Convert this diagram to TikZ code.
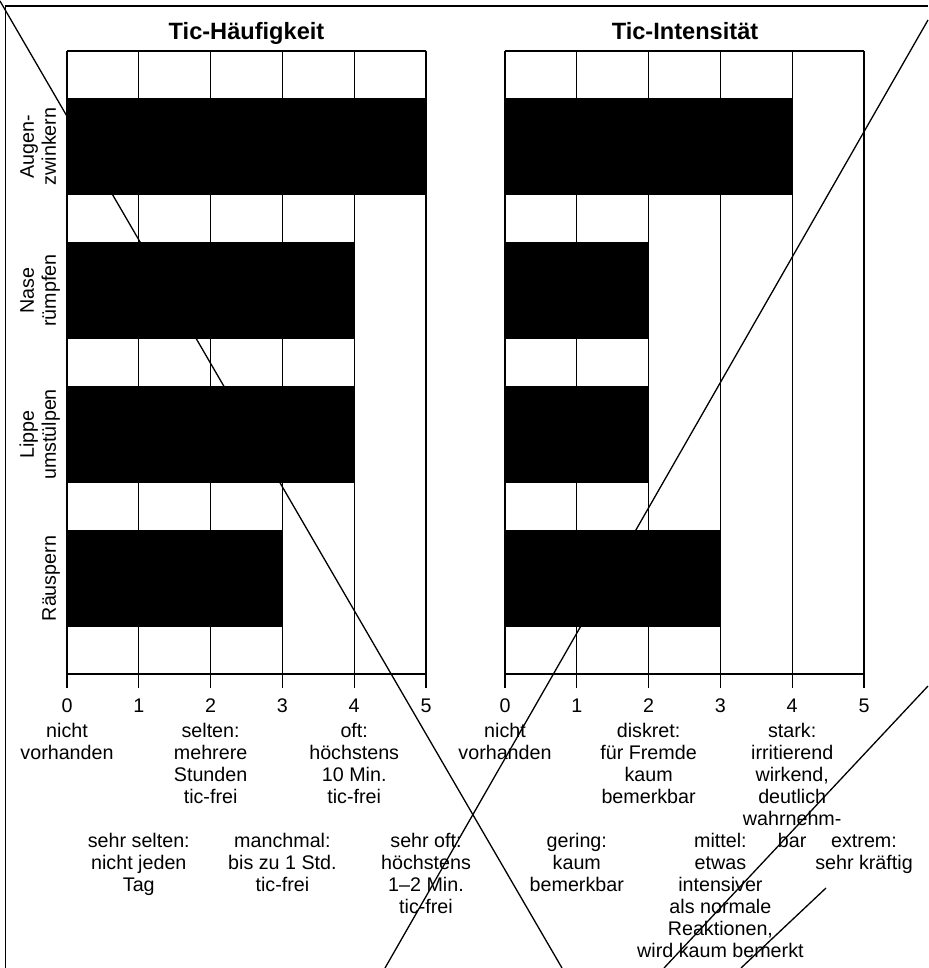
\documentclass[tikz,border=0pt]{standalone}
\usepackage{fontspec}
\setmainfont{Liberation Sans}
\newcommand\lblfont{\fontsize{19.7}{22}\selectfont}
\newcommand\ttlfont{\fontsize{23.6}{28}\selectfont\bfseries}
\begin{document}
\begin{tikzpicture}[x=1pt,y=-1pt,
  gridline/.style={line width=1.3pt},
  axisline/.style={line width=2pt},
  stray/.style={line width=1.3pt},
  framel/.style={line width=1.5pt},
  bar/.style={fill=black},
  lbl/.style={anchor=north,inner sep=0pt,align=center,font=\lblfont},
  num/.style={anchor=base,inner sep=0pt,font=\lblfont},
  cat/.style={rotate=90,anchor=south,inner sep=0pt,align=center,font=\lblfont},
  ttl/.style={anchor=base,inner sep=0pt,font=\ttlfont}]
\useasboundingbox (0,0) rectangle (928,968);
% frame
\coordinate (f1) at (5.5,968);
\coordinate (f2) at (5.5,6);
\coordinate (f3) at (928,6);
\draw[framel] (f1) -- (f2) -- (f3);
% stray diagonal lines
\coordinate (a1) at (0,1);   \coordinate (a2) at (562,968);
\coordinate (b1) at (928,20); \coordinate (b2) at (385,968);
\coordinate (c1) at (928,686); \coordinate (c2) at (664,968);
\coordinate (d1) at (826,888); \coordinate (d2) at (741,968);
\draw[stray] (a1) -- (a2);
\draw[stray] (b1) -- (b2);
\draw[stray] (c1) -- (c2);
\draw[stray] (d1) -- (d2);
% grids
\foreach \cx/\nm in {67/L,505/R}{
  \draw[gridline] (\cx,51) -- (\cx+5*71.8,51);
  \foreach \k in {0,...,5}{
    \draw[gridline] (\cx+\k*71.8,51) -- (\cx+\k*71.8,688);
    \node[num] (\nm n\k) at (\cx+\k*71.8,712) {\k};
  }
}
% bars
\foreach \v/\yt in {5/98,4/242,4/386,3/530}
  \fill[bar] (67,\yt) rectangle (67+\v*71.8,\yt+97);
\foreach \v/\yt in {4/98,2/242,2/386,3/530}
  \fill[bar] (505,\yt) rectangle (505+\v*71.8,\yt+97);
% axes
\draw[axisline] (67,674) -- (67+5*71.8,674);
\draw[axisline] (505,674) -- (505+5*71.8,674);
% titles
\node[ttl] (t1) at (246.5,40) {Tic-Häufigkeit};
\node[ttl] (t2) at (685,40) {Tic-Intensität};
% category labels
\node[cat] (c1l) at (62.6,146.5) {Augen-\\zwinkern\strut};
\node[cat] (c2l) at (62.6,290.5) {Nase\\rümpfen\strut};
\node[cat] (c3l) at (62.6,434.5) {Lippe\\umstülpen\strut};
\node[cat] (c4l) at (62.6,578.5) {Räuspern\strut};
% left descriptions
\node[lbl] (l0) at (67,721.6) {\strut nicht\\vorhanden};
\node[lbl] (l2) at (210.6,721.6) {\strut selten:\\mehrere\\Stunden\\tic-frei};
\node[lbl] (l4) at (354.2,721.6) {\strut oft:\\höchstens\\10 Min.\\tic-frei};
\node[lbl] (l1) at (138.8,831.6) {\strut sehr selten:\\nicht jeden\\Tag};
\node[lbl] (l3) at (282.4,831.6) {\strut manchmal:\\bis zu 1 Std.\\tic-frei};
\node[lbl] (l5) at (426,831.6) {\strut sehr oft:\\höchstens\\1–2 Min.\\tic-frei};
% right descriptions
\node[lbl] (r0) at (505,721.6) {\strut nicht\\vorhanden};
\node[lbl] (r2) at (648.6,721.6) {\strut diskret:\\für Fremde\\kaum\\bemerkbar};
\node[lbl] (r4) at (792.2,721.6) {\strut stark:\\irritierend\\wirkend,\\deutlich\\wahrnehm-\\bar};
\node[lbl] (r1) at (576.8,831.6) {\strut gering:\\kaum\\bemerkbar};
\node[lbl] (r3) at (720.4,831.6) {\strut mittel:\\etwas\\intensiver\\als normale\\Reaktionen,\\wird kaum bemerkt};
\node[lbl] (r5) at (864,831.6) {\strut extrem:\\sehr kräftig};
\end{tikzpicture}
\end{document}
